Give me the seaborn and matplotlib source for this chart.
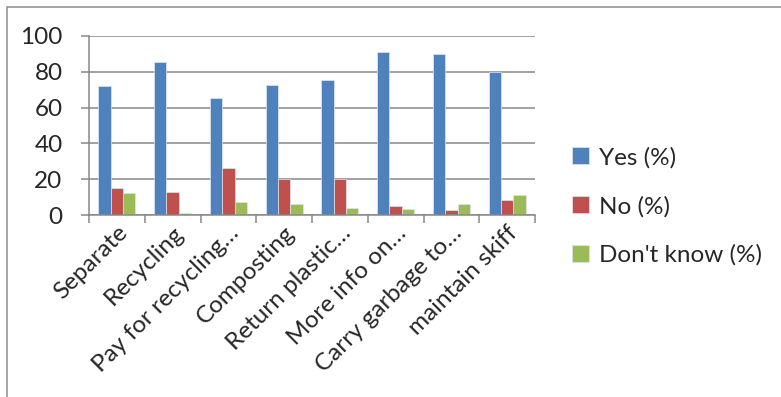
import matplotlib
matplotlib.use("Agg")
import matplotlib.pyplot as plt
import seaborn as sns
import pandas as pd
import numpy as np
from matplotlib.patches import Rectangle
from matplotlib.ticker import FixedLocator

categories = ["Separate", "Recycling", "Pay for recycling\u2026", "Composting",
              "Return plastic\u2026", "More info on\u2026", "Carry garbage to\u2026", "maintain skiff"]
yes_vals = [72, 85.5, 65.5, 72.8, 75.2, 90.9, 90.1, 79.9]
no_vals = [15.3, 12.7, 26, 20, 20, 5, 3, 8.6]
dk_vals = [12.1, 1, 7.3, 6.3, 3.9, 3.2, 6.1, 11.2]
series_names = ["Yes (%)", "No (%)", "Don't know (%)"]
colors = ["#4F81BD", "#C0504D", "#9BBB59"]
yticks = [0, 20, 40, 60, 80, 100]

df = pd.DataFrame({
    "category": categories * 3,
    "value": yes_vals + no_vals + dk_vals,
    "series": [series_names[0]] * 8 + [series_names[1]] * 8 + [series_names[2]] * 8,
})

sns.set_style("white")
plt.rcParams["font.family"] = ["Lato", "DejaVu Sans"]
FS = 17.5

fig = plt.figure(figsize=(7.81, 3.97), dpi=100)
ax = fig.add_axes([89 / 781, 1 - 215 / 397, (535 - 89) / 781, (215 - 36) / 397])

sns.barplot(data=df, x="category", y="value", hue="series", order=categories,
            hue_order=series_names, palette=colors, width=0.66, ax=ax,
            edgecolor="#dde6f0", linewidth=0.5, saturation=1, legend=True)

ax.set_ylim(0, 100)
ax.set_xlim(-0.5, len(categories) - 0.5)
ax.set_yticks(yticks)
ax.yaxis.grid(True, color="#878787", linewidth=1.1)
ax.set_axisbelow(True)
ax.set_xlabel("")
ax.set_ylabel("")
for s in ["top", "right"]:
    ax.spines[s].set_visible(False)
for s in ["left", "bottom"]:
    ax.spines[s].set_color("#878787")
    ax.spines[s].set_linewidth(1.1)

ax.tick_params(axis="y", length=6, color="#878787", width=1.1, labelsize=FS, pad=13,
               left=True)
ax.tick_params(axis="x", which="major", length=0, labelsize=FS, pad=5)
ax.xaxis.set_minor_locator(FixedLocator(np.arange(-0.5, len(categories), 1.0)))
ax.tick_params(axis="x", which="minor", length=6, color="#878787", width=1.1, bottom=True)
plt.setp(ax.get_xticklabels(), rotation=45, ha="right", rotation_mode="anchor")

handles, labels = ax.get_legend_handles_labels()
ax.legend(handles, labels, loc="upper left", bbox_to_anchor=(550 / 781, 1 - 125 / 397),
          bbox_transform=fig.transFigure, frameon=False, fontsize=FS,
          handlelength=0.7, handleheight=0.7, handletextpad=0.4, labelspacing=1.12)

fig.patches.append(Rectangle((7 / 781, -0.1), 1.2, 1 - 7 / 397 + 0.1, transform=fig.transFigure,
                             fill=False, edgecolor="#8c8c8c", linewidth=1.1))

fig.savefig("out.png", dpi=100, facecolor="white")
